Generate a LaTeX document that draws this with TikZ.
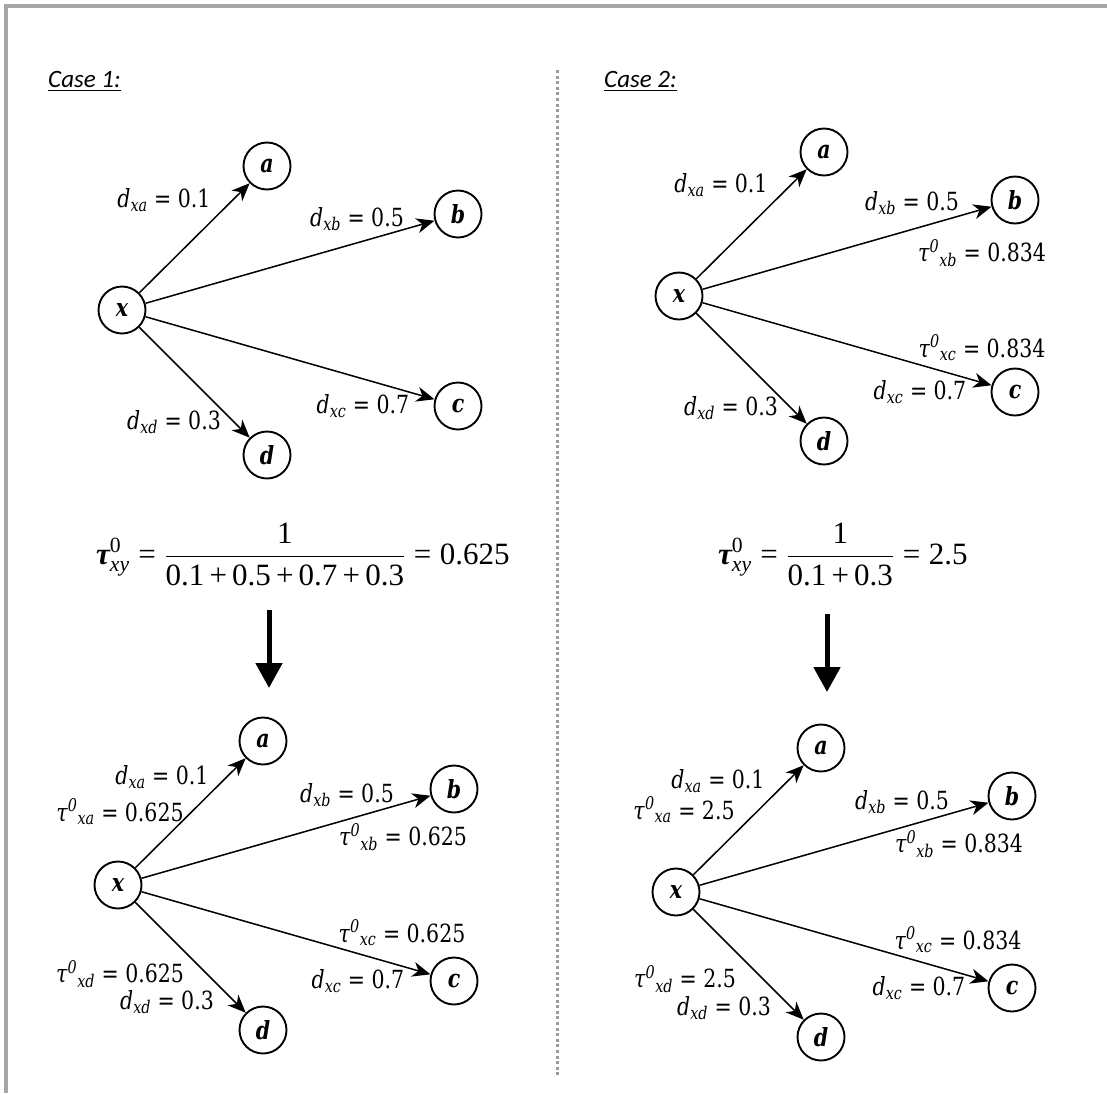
\RequirePackage{fix-cm}
\documentclass[tikz,border=0pt]{standalone}
\usepackage{amsmath}
\usepackage{fontspec}
\setmainfont{DejaVu Serif}[FakeStretch=0.82]
\newfontfamily\casefont{Carlito}
\newfontfamily\eqfont{Liberation Serif}
\usetikzlibrary{arrows.meta}

\definecolor{moldura}{HTML}{A6A6A6}
\definecolor{divisa}{HTML}{9A9A9A}

\newcommand{\distlab}[2]{\textit{d}\textsubscript{\textit{#1}} = #2}
\newcommand{\taulab}[2]{\textit{τ}\textsuperscript{\textit{0}}\textsubscript{\textit{#1}} = #2}
\newcommand{\eqtxt}[1]{\text{\eqfont #1}}
\newcommand{\eqrel}{\mathrel{\eqtxt{=}}}
\newcommand{\taueq}{\text{\eqfont\bfseries\itshape τ}^{\eqtxt{0}}_{\text{\eqfont\itshape xy}}}

\tikzset{
    vert/.style={circle, draw, line width=1.9pt, minimum size=47pt, inner sep=0pt,
        font=\fontsize{25}{27}\selectfont\bfseries\itshape},
    edge/.style={line width=1.5pt, -{Stealth[length=18pt,width=15pt,inset=5.5pt]}},
    lab/.style={font=\fontsize{25}{28}\selectfont, inner sep=0pt},
    caselab/.style={font=\casefont\itshape\fontsize{25}{30}\selectfont, inner sep=0pt, anchor=base west},
    eqlab/.style={font=\fontsize{31}{36}\selectfont, inner sep=0pt, anchor=base west},
    bigarrow/.style={line width=5pt, -{Triangle[length=25pt,width=26pt]}}
}

\begin{document}
\begin{tikzpicture}[x=1pt, y=-1pt]
    \useasboundingbox (0,0) rectangle (1107,1093);

    % moldura e divisória
    \draw[moldura, line width=4pt] (6,1093) -- (6,5.5) -- (1107,5.5);
    \draw[divisa, line width=3pt, dash pattern=on 3pt off 2.6pt] (557,70) -- (557,1077);

    \node[caselab] (case1) at (48,87) {\underline{Case 1:}};
    \node[caselab] (case2) at (604,87) {\underline{Case 2:}};

    % os quatro grafos
    \foreach \g/\ox/\oy in {1/122/310, 2/118/885, 3/679/296, 4/676/892}{
        \begin{scope}[shift={(\ox,\oy)}]
            \node[vert] (x\g) at (0,0) {x};
            \node[vert] (a\g) at (145,-144) {a};
            \node[vert] (b\g) at (336,-96) {b};
            \node[vert] (c\g) at (336,96) {c};
            \node[vert] (d\g) at (145,145) {d};
            \foreach \t in {a,b,c,d}
                \draw[edge] (x\g) -- (\t\g);
        \end{scope}
    }

    % caso 1, rótulos
    \foreach \x/\y/\lab [count=\i] in {
        164/200/{\distlab{xa}{0.1}},
        357/219/{\distlab{xb}{0.5}},
        363/406/{\distlab{xc}{0.7}},
        174/422/{\distlab{xd}{0.3}},
        162/777/{\distlab{xa}{0.1}},
        120/812/{\taulab{xa}{0.625}},
        347/795/{\distlab{xb}{0.5}},
        403/837/{\taulab{xb}{0.625}},
        402/933/{\taulab{xc}{0.625}},
        358/981/{\distlab{xc}{0.7}},
        120/974/{\taulab{xd}{0.625}},
        167/1002/{\distlab{xd}{0.3}}
    }{
        \node[lab] (p\i) at (\x,\y) {\lab};
    }

    % caso 2, rótulos
    \foreach \x/\y/\lab [count=\i] in {
        721/185/{\distlab{xa}{0.1}},
        912/203/{\distlab{xb}{0.5}},
        982/253/{\taulab{xb}{0.834}},
        982/348/{\taulab{xc}{0.834}},
        920/392/{\distlab{xc}{0.7}},
        731/408/{\distlab{xd}{0.3}},
        718/781/{\distlab{xa}{0.1}},
        684/810/{\taulab{xa}{2.5}},
        902/802/{\distlab{xb}{0.5}},
        959/844/{\taulab{xb}{0.834}},
        958/940/{\taulab{xc}{0.834}},
        919/988/{\distlab{xc}{0.7}},
        685/979/{\taulab{xd}{2.5}},
        724/1008/{\distlab{xd}{0.3}}
    }{
        \node[lab] (q\i) at (\x,\y) {\lab};
    }

    % fórmulas
    \node[eqlab] (eq1) at (96,564)
        {$\taueq \eqrel \dfrac{\eqtxt{1}}{\eqtxt{0.1\,+\,0.5\,+\,0.7\,+\,0.3}} \eqrel \eqtxt{0.625}$};
    \node[eqlab] (eq2) at (718,564)
        {$\taueq \eqrel \dfrac{\eqtxt{1}}{\eqtxt{0.1\,+\,0.3}} \eqrel \eqtxt{2.5}$};

    % setas grossas
    \coordinate (top1) at (269,610);
    \coordinate (tip1) at (269,688);
    \coordinate (top2) at (827,614);
    \coordinate (tip2) at (827,692);
    \draw[bigarrow] (top1) -- (tip1);
    \draw[bigarrow] (top2) -- (tip2);
\end{tikzpicture}
\end{document}
